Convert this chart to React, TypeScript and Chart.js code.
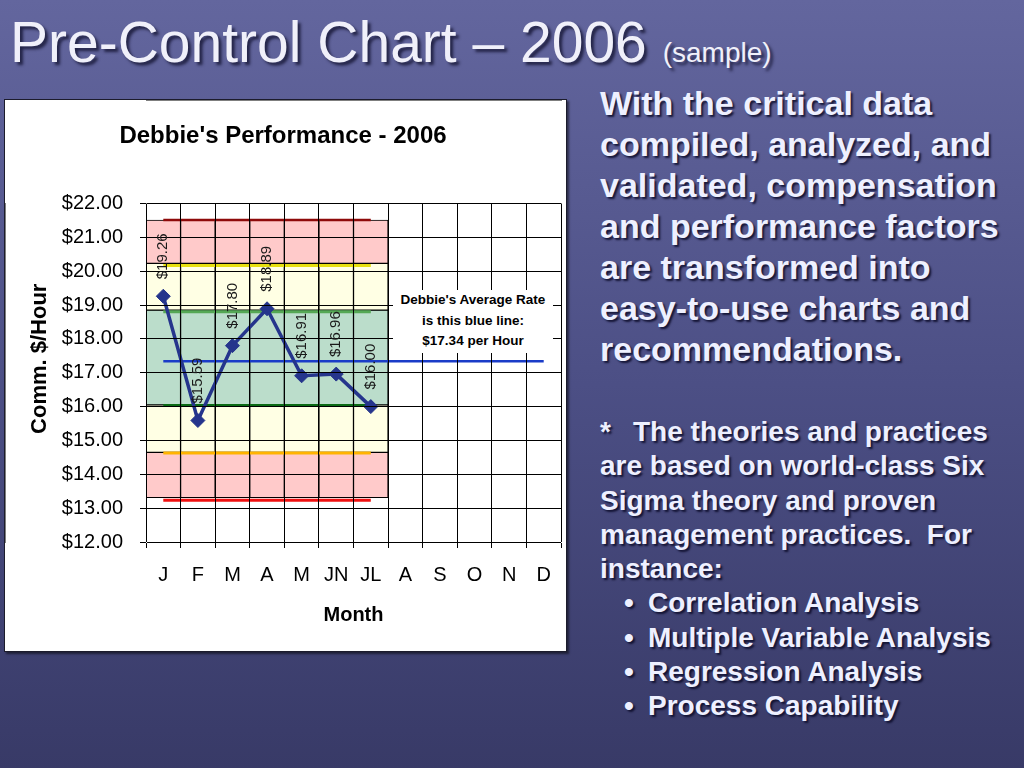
import React, { useEffect, useRef } from "react";
import { Chart, registerables } from "chart.js";

Chart.register(...registerables);

// ---------- data ----------
const months = ["J", "F", "M", "A", "M", "JN", "JL", "A", "S", "O", "N", "D"];
const performance: (number | null)[] = [19.26, 15.59, 17.8, 18.89, 16.91, 16.96, 16.0, null, null, null, null, null];
const averageRate = [17.34, 17.34, 17.34, 17.34, 17.34, 17.34, 17.34, 17.34, 17.34, 17.34, 17.34, 17.34];
const chartedMonths = 7;
const limitLevels = [21.51, 20.17, 18.8, 16.03, 14.63, 13.23];
const bandLows = [20.23, 18.85, 16.05, 14.65, 13.31];
const bandHighs = [21.51, 20.23, 18.85, 16.05, 14.65];
const yMin = 12;
const yMax = 22;
const yStep = 1;
const chartTitle = "Debbie's Performance - 2006";
const yTitle = "Comm. $/Hour";
const xTitle = "Month";

// ---------- styles ----------
const FONT = "'Liberation Sans', Arial, Helvetica, sans-serif";
const limitColors = ["#8E0A0A", "#E8E010", "#55A855", "#0A6A14", "#FFB400", "#F01010"];
const limitWidths = [2.5, 3, 3, 3, 3, 3];
const bandColors = ["#FFCACA", "#FFFFE4", "#BBDDCB", "#FFFFE4", "#FFCACA"];

const annotatePlugin = {
  id: "annotate",
  afterDraw(chart: any) {
    const ctx = chart.ctx as CanvasRenderingContext2D;
    const meta = chart.getDatasetMeta(0);
    ctx.save();
    ctx.font = `15px ${FONT}`;
    ctx.fillStyle = "#1a1a1a";
    ctx.textAlign = "left";
    ctx.textBaseline = "middle";
    meta.data.forEach((pt: any, i: number) => {
      const v = performance[i];
      if (v == null) return;
      ctx.save();
      ctx.translate(pt.x, pt.y - 17);
      ctx.rotate(-Math.PI / 2);
      ctx.fillText("$" + v.toFixed(2), 0, 0);
      ctx.restore();
    });
    const { top, bottom } = chart.chartArea;
    ctx.save();
    ctx.translate(35, (top + bottom) / 2 - 14);
    ctx.rotate(-Math.PI / 2);
    ctx.font = `bold 22px ${FONT}`;
    ctx.textAlign = "center";
    ctx.textBaseline = "middle";
    ctx.fillStyle = "#000";
    ctx.fillText(yTitle, 0, 0);
    ctx.restore();
    ctx.restore();
  },
};

function PreControlChart() {
  const ref = useRef<HTMLCanvasElement | null>(null);
  useEffect(() => {
    if (!ref.current) return;
    const datasets: any[] = [];
    datasets.push({
      type: "line",
      label: "Performance",
      data: performance,
      borderColor: "#25358C",
      backgroundColor: "#25358C",
      borderWidth: 3.5,
      pointStyle: "rectRot",
      pointRadius: 7,
      pointBorderWidth: 1,
      pointBackgroundColor: "#25358C",
      pointBorderColor: "#25358C",
      tension: 0,
      order: 0,
    });
    datasets.push({
      type: "line",
      label: "Average",
      data: averageRate,
      borderColor: "#1A3CC8",
      borderWidth: 2.5,
      pointRadius: 0,
      order: 1,
    });
    limitLevels.forEach((lvl, k) => {
      datasets.push({
        type: "line",
        label: "Limit " + k,
        data: months.map((_, i) => (i < chartedMonths ? lvl : null)),
        borderColor: limitColors[k],
        borderWidth: limitWidths[k],
        pointRadius: 0,
        order: 2,
      });
    });
    bandLows.forEach((lo, b) => {
      datasets.push({
        type: "bar",
        label: "Band " + b,
        data: months.map((_, i) => (i < chartedMonths ? [lo, bandHighs[b]] : null)),
        backgroundColor: bandColors[b],
        borderColor: "#000",
        borderWidth: 1,
        borderSkipped: false,
        grouped: false,
        barPercentage: 1,
        categoryPercentage: 1,
        order: 3,
      });
    });

    const chart = new Chart(ref.current, {
      type: "bar",
      data: { labels: months, datasets },
      options: {
        animation: false,
        responsive: false,
        layout: { autoPadding: false, padding: { left: 0, right: 4, top: 0, bottom: 0 } },
        plugins: {
          legend: { display: false },
          tooltip: { enabled: false },
          title: {
            display: true,
            text: chartTitle,
            color: "#000",
            font: { family: FONT, size: 24, weight: "bold" },
            padding: { top: 21.6, bottom: 53.1 },
          },
        },
        scales: {
          x: {
            type: "category",
            offset: true,
            grid: { offset: true, color: "#000", lineWidth: 1, tickLength: 6, z: 1, tickColor: "#000" },
            border: { color: "#000", width: 1 },
            ticks: {
              color: "#000",
              font: { family: FONT, size: 20, lineHeight: 2.77 },
              padding: 0,
              maxRotation: 0,
              autoSkip: false,
            },
            title: {
              display: true,
              text: xTitle,
              color: "#000",
              font: { family: FONT, size: 20, weight: "bold" },
              padding: { top: 0, bottom: 24 },
            },
            afterFit: (scale: any) => {
              scale.height = 109;
            },
          },
          y: {
            type: "linear",
            min: yMin,
            max: yMax,
            grid: { color: "#000", lineWidth: 1, tickLength: 6, z: 1, tickColor: "#000" },
            border: { color: "#000", width: 1 },
            ticks: {
              stepSize: yStep,
              color: "#000",
              font: { family: FONT, size: 20 },
              padding: 17,
              callback: (v: any) => "$" + Number(v).toFixed(2),
            },
            afterFit: (scale: any) => {
              scale.width = 141;
            },
          },
        },
      } as any,
      plugins: [annotatePlugin],
    });
    return () => chart.destroy();
  }, []);
  return <canvas ref={ref} width={560} height={551} style={{ display: "block", width: 560, height: 551 }} />;
}

const textShadow = "2px 2px 2px rgba(10,10,40,0.85)";
const para1 = [
  "With the critical data",
  "compiled, analyzed, and",
  "validated, compensation",
  "and performance factors",
  "are transformed into",
  "easy-to-use charts and",
  "recommendations.",
];
const para2 = [
  "are based on world-class Six",
  "Sigma theory and proven",
  "management practices.  For",
  "instance:",
];
const bullets = ["Correlation Analysis", "Multiple Variable Analysis", "Regression Analysis", "Process Capability"];

export default function App() {
  return (
    <div
      style={{
        position: "fixed",
        left: 0,
        top: 0,
        width: 1024,
        height: 768,
        overflow: "hidden",
        background: "linear-gradient(to bottom, #63669e 0%, #4c4f85 50%, #383a67 100%)",
        fontFamily: FONT,
      }}
    >
      <div
        style={{
          position: "absolute",
          left: 10,
          top: 14,
          fontSize: 57,
          lineHeight: "57px",
          color: "#F0F0FA",
          textShadow: "3px 3px 3px rgba(20,20,50,0.8)",
          whiteSpace: "nowrap",
        }}
      >
        Pre-Control Chart – 2006 <span style={{ fontSize: 28 }}>(sample)</span>
      </div>

      <div
        style={{
          position: "absolute",
          left: 4,
          top: 99,
          width: 561,
          height: 551,
          border: "1px solid #1c1c2c",
          background: "#fff",
          boxShadow: "2px 2px 2px rgba(0,0,0,0.5)",
        }}
      >
        <PreControlChart />
      </div>

      <div
        style={{
          position: "absolute",
          left: 393,
          top: 290,
          width: 160,
          height: 63,
          background: "#fff",
          color: "#000",
          fontWeight: "bold",
          fontSize: 13.5,
          lineHeight: "20.5px",
          textAlign: "center",
          whiteSpace: "nowrap",
        }}
      >
        <div>Debbie's Average Rate</div>
        <div>is this blue line:</div>
        <div>$17.34 per Hour</div>
      </div>

      <div
        style={{
          position: "absolute",
          left: 600,
          top: 83,
          fontSize: 34,
          lineHeight: "41px",
          fontWeight: "bold",
          color: "#EEF0FF",
          textShadow,
          whiteSpace: "nowrap",
        }}
      >
        {para1.map((l, i) => (
          <div key={i}>{l}</div>
        ))}
      </div>

      <div
        style={{
          position: "absolute",
          left: 600,
          top: 415,
          fontSize: 28,
          lineHeight: "34.3px",
          fontWeight: "bold",
          color: "#EEF0FF",
          textShadow,
          whiteSpace: "pre",
        }}
      >
        <div>
          <span style={{ display: "inline-block", width: 33 }}>*</span>The theories and practices
        </div>
        {para2.map((l, i) => (
          <div key={i}>{l}</div>
        ))}
        {bullets.map((l, i) => (
          <div key={"b" + i}>
            <span style={{ display: "inline-block", width: 24, marginLeft: 24 }}>•</span>
            {l}
          </div>
        ))}
      </div>
    </div>
  );
}
